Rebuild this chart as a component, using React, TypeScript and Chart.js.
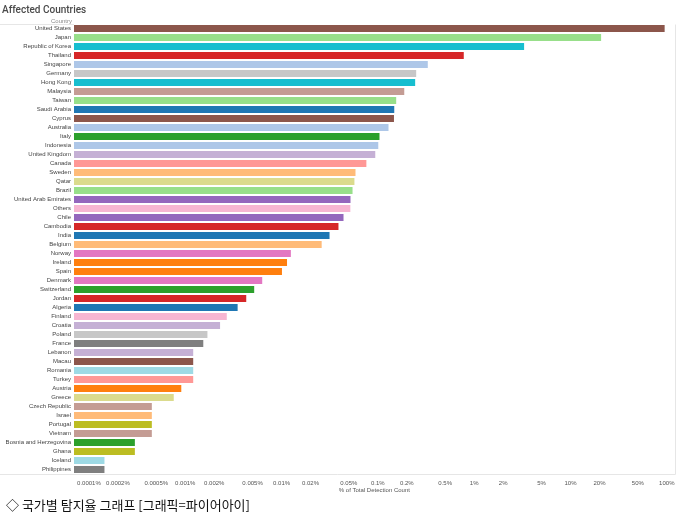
import { useEffect, useRef } from "react";
import { Chart, registerables } from "chart.js";

Chart.register(...registerables);

const countries = [
  "United States", "Japan", "Republic of Korea", "Thailand", "Singapore", "Germany",
  "Hong Kong", "Malaysia", "Taiwan", "Saudi Arabia", "Cyprus", "Australia", "Italy",
  "Indonesia", "United Kingdom", "Canada", "Sweden", "Qatar", "Brazil",
  "United Arab Emirates", "Others", "Chile", "Cambodia", "India", "Belgium", "Norway",
  "Ireland", "Spain", "Denmark", "Switzerland", "Jordan", "Algeria", "Finland",
  "Croatia", "Poland", "France", "Lebanon", "Macau", "Romania", "Turkey", "Austria",
  "Greece", "Czech Republic", "Israel", "Portugal", "Vietnam",
  "Bosnia and Herzegovina", "Ghana", "Iceland", "Philippines",
];

const shares = [
  95, 20.8, 3.3, 0.78, 0.33, 0.25,
  0.244, 0.188, 0.155, 0.148, 0.147, 0.129, 0.104,
  0.101, 0.094, 0.076, 0.0586, 0.0571, 0.0546,
  0.052, 0.0518, 0.044, 0.039, 0.0315, 0.0261, 0.0125,
  0.0114, 0.0101, 0.0063, 0.0052, 0.0043, 0.0035, 0.0027,
  0.0023, 0.0017, 0.00154, 0.00121, 0.00121, 0.00121, 0.00121, 0.00091,
  0.00076, 0.00045, 0.00045, 0.00045, 0.00045,
  0.0003, 0.0003, 0.000145, 0.000145,
];

const barColors = [
  "#8c564b", "#98df8a", "#17becf", "#d62728", "#aec7e8", "#c7c7c7",
  "#17becf", "#c49c94", "#98df8a", "#1f77b4", "#8c564b", "#aec7e8", "#2ca02c",
  "#aec7e8", "#c5b0d5", "#ff9896", "#ffbb78", "#dbdb8d", "#98df8a",
  "#9467bd", "#f7b6d2", "#9467bd", "#d62728", "#1f77b4", "#ffbb78", "#e377c2",
  "#ff7f0e", "#ff7f0e", "#e377c2", "#2ca02c", "#d62728", "#1f77b4", "#f7b6d2",
  "#c5b0d5", "#c7c7c7", "#7f7f7f", "#c5b0d5", "#8c564b", "#9edae5", "#ff9896", "#ff7f0e",
  "#dbdb8d", "#c49c94", "#ffbb78", "#bcbd22", "#c49c94",
  "#2ca02c", "#bcbd22", "#9edae5", "#7f7f7f",
];

const tickValues = [
  0.0001, 0.0002, 0.0005, 0.001, 0.002, 0.005, 0.01, 0.02, 0.05,
  0.1, 0.2, 0.5, 1, 2, 5, 10, 20, 50, 100,
];

const titleText = "Affected Countries";
const headerText = "Country";
const axisTitle = "% of Total Detection Count";
const captionText = "◇ 국가별 탐지율 그래프 [그래픽=파이어아이]";

const framePlugin = {
  id: "frame",
  beforeDatasetsDraw(chart: any) {
    const { ctx, chartArea } = chart;
    const top = Math.round(chartArea.top) + 0.5;
    const bottom = Math.round(chartArea.bottom) + 0.5;
    const right = Math.round(chartArea.right) + 0.5;
    ctx.save();
    ctx.strokeStyle = "#e6e6e6";
    ctx.lineWidth = 1;
    ctx.beginPath();
    ctx.moveTo(0, top);
    ctx.lineTo(chartArea.left, top);
    ctx.moveTo(right, top);
    ctx.lineTo(right, bottom);
    ctx.moveTo(0, bottom);
    ctx.lineTo(right, bottom);
    ctx.stroke();
    ctx.fillStyle = "#8a8a8a";
    ctx.font = "6px 'Liberation Sans'";
    ctx.textAlign = "right";
    ctx.textBaseline = "alphabetic";
    ctx.fillText(headerText, chartArea.left - 2, chartArea.top - 1);
    ctx.restore();
  },
};

export default function App() {
  const canvasRef = useRef<HTMLCanvasElement | null>(null);

  useEffect(() => {
    document.body.style.margin = "0";
    const canvas = canvasRef.current;
    if (!canvas) return;
    const chart = new Chart(canvas, {
      type: "bar",
      data: {
        labels: countries,
        datasets: [
          {
            data: shares,
            backgroundColor: barColors,
            borderWidth: 0,
            barPercentage: 0.78,
            categoryPercentage: 1,
          },
        ],
      },
      options: {
        indexAxis: "y",
        responsive: false,
        animation: false,
        layout: { padding: { left: 2, right: 3, top: 0, bottom: 3.6 } },
        plugins: {
          legend: { display: false },
          tooltip: { enabled: false },
          title: {
            display: true,
            text: titleText,
            align: "start",
            color: "#4a4a4a",
            font: { family: "Roboto", size: 10, weight: "500" },
            padding: { top: 4.5, bottom: 7.5 },
          },
        },
        scales: {
          x: {
            type: "logarithmic",
            min: 0.000073,
            max: 121,
            grid: { display: false, drawTicks: false },
            border: { display: false },
            afterBuildTicks: (scale: any) => {
              scale.ticks = tickValues.map((v) => ({ value: v }));
            },
            afterFit: (scale: any) => {
              scale.height = 22.4;
            },
            ticks: {
              autoSkip: false,
              maxRotation: 0,
              padding: 5.5,
              color: "#555",
              font: { family: "Liberation Sans", size: 6 },
              callback: (value: any) => `${value}%`,
            },
            title: {
              display: true,
              text: axisTitle,
              color: "#555",
              font: { family: "Liberation Sans", size: 6 },
              padding: { top: 0.5, bottom: 2 },
            },
          },
          y: {
            type: "category",
            grid: { display: false, drawTicks: false },
            border: { display: false },
            afterFit: (scale: any) => {
              scale.width = 72;
            },
            ticks: {
              autoSkip: false,
              padding: 3,
              color: "#444",
              font: { family: "Liberation Sans", size: 6 },
            },
          },
        },
      },
      plugins: [framePlugin],
    } as any);
    return () => chart.destroy();
  }, []);

  return (
    <div style={{ position: "relative", width: 680, height: 517, background: "#fff" }}>
      <canvas ref={canvasRef} width={680} height={500} style={{ display: "block" }} />
      <div
        style={{
          position: "absolute",
          left: 6,
          top: 497,
          fontFamily: "'Noto Sans CJK KR', sans-serif",
          fontSize: 13,
          lineHeight: "16px",
          color: "#111",
          whiteSpace: "nowrap",
        }}
      >
        {captionText}
      </div>
    </div>
  );
}
